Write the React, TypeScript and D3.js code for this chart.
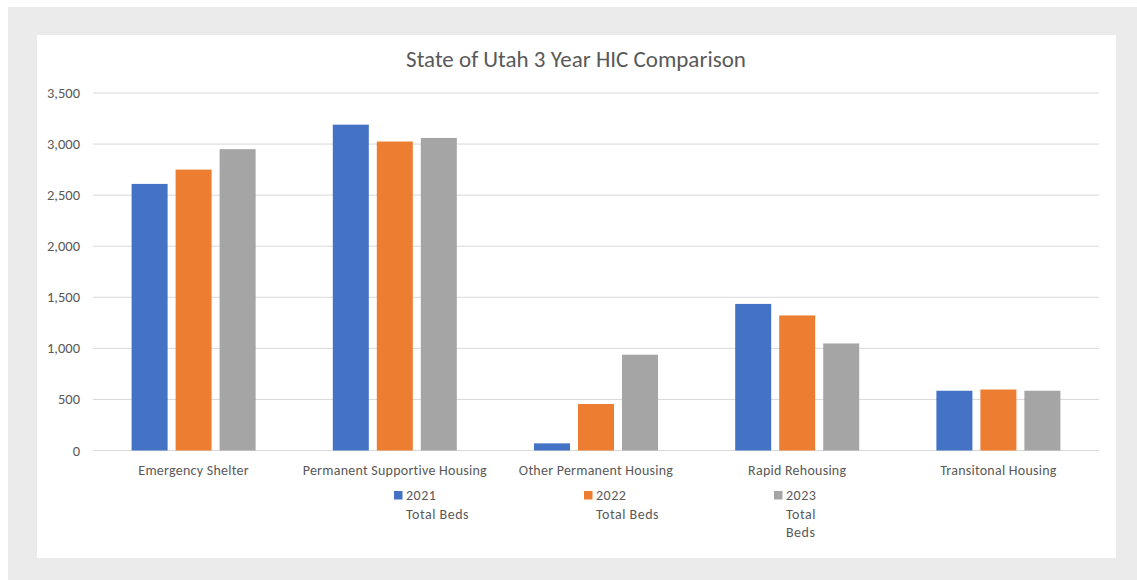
import React from "react";
import * as d3 from "d3";

const categories = [
  "Emergency Shelter",
  "Permanent Supportive Housing",
  "Other Permanent Housing",
  "Rapid Rehousing",
  "Transitonal Housing",
];
const seriesNames = ["2021 Total Beds", "2022 Total Beds", "2023 Total Beds"];
const legendLines = [["2021", "Total Beds"], ["2022", "Total Beds"], ["2023", "Total", "Beds"]];
const values2021 = [2610, 3190, 70, 1435, 585];
const values2022 = [2750, 3025, 455, 1322, 597];
const values2023 = [2950, 3060, 938, 1048, 585];
const yTicks = [0, 500, 1000, 1500, 2000, 2500, 3000, 3500];
const title = "State of Utah 3 Year HIC Comparison";

const colors = ["#4472C4", "#ED7D31", "#A5A5A5"];
const FONT = "Carlito, 'Liberation Sans', Arial, sans-serif";
const TEXT = "#595959";

export default function App() {
  const W = 1137, H = 580;
  const left = 93, right = 1099, top = 93, bottom = 450.5;
  const y = d3.scaleLinear().domain([0, 3500]).range([bottom, top]);
  const x = d3.scaleBand<string>().domain(categories).range([left, right]).padding(0);
  const groupW = 124;
  const xs = d3.scaleBand<string>().domain(seriesNames).range([0, groupW]).paddingInner(8 / 44).paddingOuter(0);
  const all = [values2021, values2022, values2023];
  const fmt = d3.format(",");

  return (
    <svg width={W} height={H} style={{ position: "absolute", left: 0, top: 0 }} fontFamily={FONT}>
      <rect x={8} y={7} width={W - 8} height={H - 7} fill="#ebebeb" />
      <rect x={37} y={35} width={1079} height={523} fill="#ffffff" />
      <text x={576} y={66.5} textAnchor="middle" fontSize={23} fill={TEXT}>{title}</text>
      {yTicks.map((t) => (
        <g key={t}>
          <line x1={left} x2={right} y1={y(t)} y2={y(t)} stroke="#d9d9d9" strokeWidth={1} />
          <text x={80} y={y(t) + 5} textAnchor="end" fontSize={14.5} fill={TEXT}>{fmt(t)}</text>
        </g>
      ))}
      {categories.map((c, i) => {
        const cx = (x(c) as number) + x.bandwidth() / 2;
        const g0 = cx - groupW / 2;
        return (
          <g key={c}>
            {all.map((vals, s) => (
              <rect key={s} x={g0 + (xs(seriesNames[s]) as number)} y={y(vals[i])}
                width={xs.bandwidth()} height={bottom - y(vals[i])} fill={colors[s]} />
            ))}
            <text x={cx} y={475} textAnchor="middle" fontSize={14} fill={TEXT} letterSpacing={0.25}>{c}</text>
          </g>
        );
      })}
      {seriesNames.map((s, i) => {
        const lx = 394 + i * 190;
        return (
          <g key={s}>
            <rect x={lx} y={491} width={8.5} height={8.5} fill={colors[i]} />
            {legendLines[i].map((ln, j) => (
              <text key={j} x={lx + 12} y={500 + j * 18.5} fontSize={14} fill={TEXT} letterSpacing={0.5}>{ln}</text>
            ))}
          </g>
        );
      })}
    </svg>
  );
}
